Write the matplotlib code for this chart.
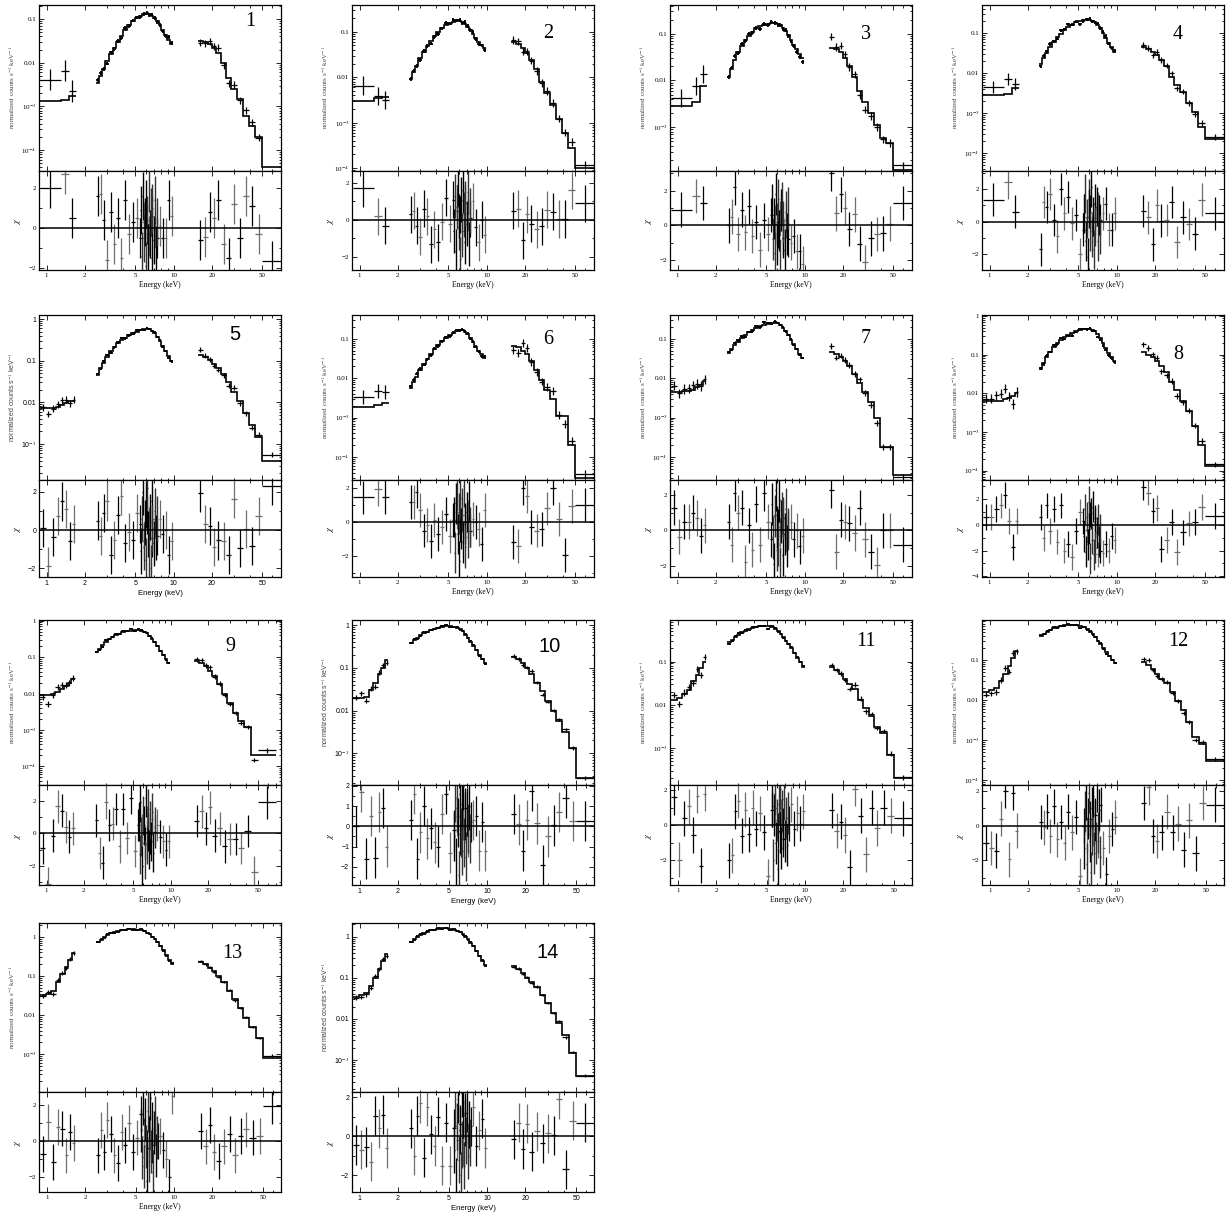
import matplotlib
matplotlib.use('Agg')
import matplotlib.pyplot as plt
from matplotlib.ticker import FixedLocator, FuncFormatter, LogLocator, MultipleLocator, NullFormatter
import numpy as np

matplotlib.rcParams['mathtext.fontset'] = 'stix'

# ---- shared energy bins (keV) ----
soft_edges_coarse = [0.88, 1.3, 1.5, 1.7]
soft_edges_fine = [0.88, 0.98, 1.08, 1.18, 1.28, 1.38, 1.48, 1.58, 1.68]
mid_edges = [2.45, 2.6, 2.75, 2.9, 3.1, 3.3, 3.5, 3.75, 4.0, 4.3, 4.6, 4.95, 5.3,
             5.65, 6.0, 6.3, 6.6, 6.9, 7.25, 7.6, 8.0, 8.45, 8.9, 9.4, 9.9]
hard_edges = [15.5, 17, 18.5, 20, 21.5, 23.5, 26, 28.5, 31.5, 35, 39, 44, 50, 70]
fe_energy = [5.5, 5.6, 5.7, 5.8, 5.9, 6.0, 6.1, 6.2, 6.3, 6.4, 6.5, 6.6, 6.7, 6.8, 6.95, 7.1, 7.25, 7.4]

# ---- panel 1 ----
soft1 = [0.0013, 0.0014, 0.0017]
soft1_chi = [2.0, 2.7, 0.5]
mid1 = [0.0035, 0.005, 0.007, 0.011, 0.016, 0.022, 0.03, 0.042, 0.055, 0.072, 0.09, 0.105,
        0.118, 0.128, 0.135, 0.13, 0.12, 0.105, 0.09, 0.072, 0.055, 0.043, 0.034, 0.027]
mid1_chi = [1.6, 1.7, 0.4, -1.6, 0.8, -0.8, 0.5, -1.5, 1.4, -0.3, 0.3, 0.5,
            -0.5, 0.3, 0.2, -0.4, 0.6, 0.0, -0.5, 0.1, -0.5, -0.5, 1.4, 0.6]
fe1_chi = [0.9, -1.4, 1.6, -0.5, 0.3, -1.9, 1.2, 0.4, -1.0, 2.0, -0.3, 0.8, -1.5, 1.0, -0.6, 1.4, -1.1, 0.3]
hard1 = [0.032, 0.03, 0.027, 0.022, 0.017, 0.01, 0.0045, 0.0025, 0.0015, 0.0006, 0.00035, 0.0002, 4e-5]
hard1_chi = [-0.6, -0.45, 0.8, 0.5, 1.4, -0.8, -1.5, 1.2, -0.5, 1.6, 1.1, -0.3, -1.65]

# ---- panel 2 ----
soft2 = [0.003, 0.0035, 0.0036]
soft2_chi = [1.7, 0.2, -0.3]
mid2 = [0.009, 0.013, 0.018, 0.026, 0.036, 0.048, 0.062, 0.08, 0.1, 0.12, 0.14, 0.155,
        0.165, 0.17, 0.175, 0.165, 0.15, 0.13, 0.11, 0.09, 0.072, 0.06, 0.05, 0.043]
mid2_chi = [0.3, 0.5, -0.3, -0.9, 0.6, 0.2, -1.3, -0.5, -1.2, -0.1, 1.2, -0.2,
            1.1, 0.5, 0.3, -0.6, 0.9, 0.4, 0.1, 1.0, -0.4, -1.2, 0.0, -0.8]
fe2_chi = [-0.6, 1.3, -1.7, 0.7, 1.9, -0.4, 0.2, -2.1, 1.1, -0.8, 1.6, 0.3, -1.2, 0.9, -0.2, 1.5, -1.3, 0.5]
hard2 = [0.06, 0.055, 0.045, 0.035, 0.024, 0.015, 0.008, 0.0045, 0.0025, 0.0012, 0.0006, 0.00028, 0.0001]
hard2_chi = [0.5, 0.6, -1.1, 0.3, -0.2, -0.5, -0.35, 0.55, 0.45, 0.05, 0.05, 1.6, 0.9]

# ---- panel 3 ----
soft3 = [0.0028, 0.0035, 0.0075]
soft3_chi = [0.9, 1.7, 1.3]
mid3 = [0.012, 0.018, 0.027, 0.04, 0.055, 0.072, 0.09, 0.11, 0.13, 0.145, 0.155, 0.16,
        0.165, 0.165, 0.16, 0.15, 0.135, 0.115, 0.095, 0.075, 0.058, 0.046, 0.037, 0.03]
mid3_chi = [0.0, 0.5, 2.2, -0.5, 0.9, -0.4, 1.1, -0.6, 0.2, -1.4, 0.3, -0.5,
            0.6, 0.2, -0.3, 0.4, -0.7, 0.3, -0.8, -1.0, -0.6, -1.5, -1.5, -2.2]
fe3_chi = [1.2, -0.8, 0.4, -1.6, 1.8, 0.1, -1.1, 1.5, -0.3, -2.0, 0.9, 1.3, -0.7, 0.2, -1.4, 0.8, -0.5, 1.0]
hard3 = [0.05, 0.046, 0.04, 0.03, 0.02, 0.012, 0.006, 0.0035, 0.002, 0.0011, 0.0006, 0.00045, 0.00012]
hard3_chi = [3.0, 0.7, 1.8, 1.0, -0.2, 0.65, -1.05, -2.1, -0.75, -0.5, -0.45, 0.1, 1.3]

# ---- panel 4 ----
soft4 = [0.0028, 0.003, 0.0042]
soft4_chi = [1.35, 2.4, 0.6]
mid4 = [0.017, 0.024, 0.032, 0.045, 0.06, 0.077, 0.095, 0.115, 0.14, 0.16, 0.18, 0.195,
        0.205, 0.21, 0.21, 0.2, 0.18, 0.155, 0.13, 0.1, 0.075, 0.056, 0.043, 0.034]
mid4_chi = [-1.7, 1.2, 0.9, 1.7, 0.1, -0.9, 2.0, 0.5, 1.5, -0.1, 0.4, -2.0,
            -0.5, 0.3, 0.6, -0.4, 0.2, 0.8, 0.1, 0.5, 1.1, -0.5, -0.5, 0.5]
fe4_chi = [0.5, 1.7, -1.2, 0.2, -2.2, 1.4, 0.8, -0.6, 2.1, -1.0, 0.3, -1.7, 1.1, -0.3, 0.9, -1.2, 0.4, -0.8]
hard4 = [0.045, 0.04, 0.034, 0.028, 0.021, 0.015, 0.008, 0.005, 0.0033, 0.0018, 0.00105, 0.00045, 0.00023]
hard4_chi = [0.65, 0.25, -1.4, 1.0, 0.05, 0.1, 1.2, -1.25, 0.25, -0.15, -0.75, 1.35, 0.5]

# ---- panel 5 ----
soft5 = [0.0075, 0.0075, 0.0075, 0.0078, 0.0085, 0.0095, 0.0105, 0.011]
soft5_chi = [0.1, -1.9, -0.35, 0.75, 1.5, 1.1, -0.6, 0.3]
mid5 = [0.046, 0.065, 0.09, 0.125, 0.17, 0.215, 0.26, 0.31, 0.36, 0.41, 0.46, 0.5,
        0.54, 0.57, 0.58, 0.57, 0.53, 0.46, 0.38, 0.3, 0.22, 0.17, 0.13, 0.1]
mid5_chi = [0.5, -0.3, 0.9, 1.5, -1.3, -0.5, 0.8, 1.8, -0.7, -0.1, -0.5, 0.9,
            0.3, -0.6, 0.8, 0.2, -0.4, 0.6, -0.3, 0.6, -0.2, 0.0, -1.3, -0.6]
fe5_chi = [-1.1, 0.6, 2.0, -0.9, 0.4, -1.6, 1.3, 2.2, -0.2, -1.3, 0.7, -2.0, 1.5, 0.1, -0.7, 1.0, -0.4, 0.6]
hard5 = [0.14, 0.125, 0.105, 0.085, 0.065, 0.048, 0.03, 0.018, 0.011, 0.0055, 0.0028, 0.0015, 0.0004]
hard5_chi = [1.95, 0.3, 0.2, -0.9, -0.55, -0.6, -1.3, 1.65, -0.95, 0.05, -0.85, 0.75, 2.3]

# ---- panel 6 ----
soft6 = [0.0018, 0.0021, 0.0024]
soft6_chi = [1.45, 1.95, 1.5]
mid6 = [0.0055, 0.008, 0.011, 0.016, 0.023, 0.031, 0.042, 0.055, 0.07, 0.088, 0.105, 0.125,
        0.14, 0.155, 0.165, 0.165, 0.15, 0.13, 0.105, 0.082, 0.063, 0.05, 0.04, 0.033]
mid6_chi = [1.2, 1.2, 1.8, 0.7, -0.5, -0.2, -1.1, 0.1, -0.7, -0.3, 0.5, -0.8,
            0.1, 0.6, -0.2, 0.4, 0.0, 0.3, -0.5, 0.2, 0.0, -0.4, -1.3, 0.7]
fe6_chi = [0.3, -1.8, 1.1, 1.9, -0.7, 0.5, -2.3, 1.4, -0.4, 0.8, -1.2, 2.1, -0.1, -1.5, 0.6, -0.9, 1.2, -0.3]
hard6 = [0.067, 0.06, 0.05, 0.04, 0.027, 0.016, 0.009, 0.005, 0.003, 0.0011, 0.0011, 0.0002, 3e-5]
hard6_chi = [-1.2, -1.4, 2.0, 1.55, -0.3, -0.5, -0.4, 0.8, 2.0, 0.2, -1.95, 0.95, 1.0]

# ---- panel 7 ----
soft7 = [0.0045, 0.0045, 0.0046, 0.0048, 0.005, 0.0058, 0.0068, 0.0085]
soft7_chi = [1.3, -0.35, 0.5, 0.5, 1.0, 0.7, -0.3, 0.3]
mid7 = [0.044, 0.055, 0.068, 0.085, 0.105, 0.125, 0.145, 0.165, 0.185, 0.205, 0.225, 0.24,
        0.25, 0.255, 0.25, 0.225, 0.19, 0.155, 0.125, 0.095, 0.072, 0.054, 0.042, 0.033]
mid7_chi = [0.5, -0.8, 2.1, 1.0, 1.3, -1.8, 0.3, -1.1, 1.5, -0.8, 2.1, 0.5,
            -0.5, 0.9, 0.2, -0.3, 0.7, -0.2, 0.1, 0.5, -0.5, 0.0, -0.9, -0.3]
fe7_chi = [1.5, -0.4, -1.9, 0.8, 2.3, -1.1, 0.2, -0.8, 1.7, -2.2, 0.5, 1.0, -1.4, 0.7, -0.2, 1.2, -0.9, 0.1]
hard7 = [0.045, 0.04, 0.034, 0.027, 0.02, 0.013, 0.0075, 0.0045, 0.0025, 0.001, 0.00018, 0.00018, 3.5e-5]
hard7_chi = [2.3, -1.2, 0.6, 0.5, 0.4, -0.15, 1.3, -0.5, -1.2, -1.95, 0.0, 0.0, -0.8]

# ---- panel 8 ----
soft8 = [0.0062, 0.0062, 0.0063, 0.0065, 0.007, 0.0075, 0.0085, 0.01]
soft8_chi = [0.6, 0.6, 1.2, 1.5, 2.3, 0.3, -1.7, 0.3]
mid8 = [0.042, 0.06, 0.085, 0.12, 0.16, 0.2, 0.245, 0.29, 0.33, 0.37, 0.4, 0.43,
        0.45, 0.46, 0.46, 0.44, 0.4, 0.34, 0.27, 0.2, 0.15, 0.11, 0.085, 0.068]
mid8_chi = [0.6, -1.0, 1.5, -0.5, 1.2, -1.3, 1.5, -2.0, -1.5, -2.5, -0.5, 1.0,
            0.3, -0.4, 0.8, -1.2, 0.5, -2.3, -2.0, -2.2, -1.5, -2.0, -0.9, -1.2]
fe8_chi = [-0.9, 1.2, -2.1, 0.6, -1.5, 1.8, -0.3, -2.6, 0.9, -1.1, 1.4, -2.3, 0.2, -1.8, -0.6, 0.4, -1.3, -0.4]
hard8 = [0.115, 0.1, 0.085, 0.068, 0.05, 0.035, 0.02, 0.012, 0.0064, 0.0035, 0.0014, 0.00047, 0.00013]
hard8_chi = [2.9, 2.5, 1.1, 1.3, -1.9, -1.2, 0.2, -2.1, -0.6, 0.1, 0.2, 1.4, 0.7]

# ---- panel 9 ----
soft9 = [0.0093, 0.0093, 0.0095, 0.011, 0.013, 0.016, 0.02, 0.025]
soft9_chi = [-0.9, -3.1, -0.15, 1.65, 1.4, 0.4, -0.2, 0.3]
mid9 = [0.136, 0.17, 0.21, 0.26, 0.31, 0.35, 0.4, 0.44, 0.48, 0.52, 0.54, 0.56,
        0.56, 0.54, 0.5, 0.45, 0.39, 0.32, 0.26, 0.2, 0.15, 0.115, 0.09, 0.07]
mid9_chi = [0.8, -1.2, -1.8, 1.9, 0.5, 0.6, 1.5, -0.8, 1.5, -0.3, 2.2, -1.1,
            0.5, 0.2, -0.6, 0.7, -0.3, 0.9, 0.1, 0.5, -0.2, -0.5, -1.0, -0.5]
fe9_chi = [0.7, -1.3, 1.9, -0.2, -2.0, 1.1, 0.5, -1.6, 2.2, -0.7, 0.1, 1.5, -1.0, 0.8, -0.5, 1.3, -1.2, 0.4]
hard9 = [0.078, 0.07, 0.057, 0.042, 0.03, 0.018, 0.01, 0.0055, 0.003, 0.0018, 0.0012, 0.00021, 0.00021]
hard9_chi = [0.75, 1.35, 0.3, 1.6, -0.15, 0.3, -0.8, -0.35, -0.35, -0.9, 0.15, -2.4, 1.9]

# ---- panel 10 ----
soft10 = [0.02, 0.02, 0.021, 0.03, 0.045, 0.07, 0.1, 0.15]
soft10_chi = [0.0, 1.7, -1.6, 0.5, -1.55, 0.7, 0.9, -1.0]
mid10 = [0.38, 0.44, 0.5, 0.57, 0.64, 0.7, 0.76, 0.82, 0.87, 0.91, 0.93, 0.93,
         0.91, 0.87, 0.8, 0.71, 0.6, 0.5, 0.41, 0.33, 0.26, 0.2, 0.16, 0.13]
mid10_chi = [0.3, 1.6, -1.6, -0.3, 1.0, -0.6, -0.1, -0.8, -1.0, 0.6, 1.6, -1.3,
             -0.2, 0.5, -0.4, 0.3, 0.9, -0.5, 0.2, 0.3, 0.5, -1.2, 0.2, -1.2]
fe10_chi = [-0.5, 1.4, -1.8, 0.9, 0.2, -2.4, 1.6, -0.3, 1.1, -1.2, 2.0, -0.8, 0.5, -1.5, 0.7, -0.1, 1.0, -0.6]
hard10 = [0.18, 0.16, 0.13, 0.1, 0.072, 0.045, 0.028, 0.017, 0.01, 0.0058, 0.0032, 0.0013, 0.00026]
hard10_chi = [0.6, 0.1, -1.2, 0.3, 1.75, 0.15, -1.9, -0.5, 0.05, 0.7, 1.4, 0.25, 0.25]

# ---- panel 11 ----
soft11 = [0.013, 0.014, 0.018, 0.022, 0.035, 0.05, 0.07, 0.095]
soft11_chi = [1.6, -1.95, 0.4, 1.1, -0.55, 1.7, -2.3, 1.8]
mid11 = [0.28, 0.32, 0.37, 0.42, 0.47, 0.52, 0.56, 0.6, 0.63, 0.65, 0.66, 0.65,
         0.62, 0.57, 0.5, 0.43, 0.36, 0.3, 0.25, 0.2, 0.16, 0.12, 0.095, 0.075]
mid11_chi = [-2.0, -1.7, 0.8, 1.4, -0.6, 0.9, -0.5, 1.0, -0.2, 0.7, -0.4, -2.9,
             0.9, 1.0, -0.3, 0.5, -0.8, 0.4, 0.1, 1.2, -0.2, 0.7, 0.1, 0.8]
fe11_chi = [1.1, -2.0, 0.6, 1.8, -1.0, 0.3, -2.5, 1.2, -0.4, 2.1, -1.3, 0.8, -0.2, 1.5, -0.9, 0.4, -1.1, 0.7]
hard11 = [0.074, 0.065, 0.052, 0.04, 0.031, 0.023, 0.013, 0.0085, 0.0055, 0.003, 0.0022, 0.0007, 0.0002]
hard11_chi = [0.85, -0.3, 0.2, -0.55, -2.4, 2.1, 0.55, -1.65, 1.0, -0.15, 1.0, 0.55, 0.4]

# ---- panel 12 ----
soft12 = [0.016, 0.018, 0.02, 0.03, 0.045, 0.07, 0.11, 0.17]
soft12_chi = [-1.0, -1.3, -1.45, 0.4, 2.0, -1.95, 1.9, -0.3]
mid12 = [0.4, 0.45, 0.5, 0.56, 0.61, 0.65, 0.69, 0.72, 0.73, 0.73, 0.72, 0.69,
         0.64, 0.58, 0.5, 0.43, 0.36, 0.3, 0.25, 0.2, 0.16, 0.125, 0.1, 0.082]
mid12_chi = [0.2, -0.1, 0.8, -0.6, 1.1, -0.8, 0.2, -1.0, 0.8, -0.4, 0.5, -2.9,
             0.0, -0.5, 0.4, -0.2, 0.6, -0.9, 1.2, -1.3, -2.8, -0.6, -0.2, 0.5]
fe12_chi = [-1.3, 0.8, 1.5, -2.2, 0.4, 1.9, -0.9, -2.7, 1.0, -0.5, 1.7, -1.6, 0.3, -1.0, 2.0, -0.4, 0.9, -1.8]
hard12 = [0.088, 0.075, 0.06, 0.045, 0.034, 0.026, 0.016, 0.0095, 0.0055, 0.0028, 0.0012, 0.0008, 0.0003]
hard12_chi = [1.3, 2.2, -0.6, -0.9, -0.4, 0.8, -0.4, 0.1, -1.4, 0.3, -1.6, 1.3, 1.2]

# ---- panel 13 ----
soft13 = [0.033, 0.035, 0.04, 0.07, 0.11, 0.17, 0.26, 0.38]
soft13_chi = [-0.7, 1.05, -1.15, 0.8, 0.7, -0.8, 0.5, -0.1]
mid13 = [0.74, 0.85, 0.97, 1.1, 1.22, 1.32, 1.4, 1.47, 1.52, 1.55, 1.55, 1.52,
         1.46, 1.38, 1.28, 1.15, 1.0, 0.86, 0.72, 0.58, 0.45, 0.34, 0.26, 0.2]
mid13_chi = [-0.8, 0.6, -0.6, 1.2, 0.4, -0.8, -1.2, 0.5, -0.2, 1.0, -0.6, 0.2,
             1.5, 0.3, -0.4, 0.5, -0.2, 0.7, 0.0, 0.3, -0.5, -1.0, -2.0, 2.5]
fe13_chi = [0.6, -0.9, 2.1, -1.4, 1.2, -0.3, -2.2, 1.7, 0.2, -1.1, 2.4, -0.6, 1.0, -1.7, 0.5, 1.3, -0.8, 0.2]
hard13 = [0.23, 0.2, 0.16, 0.13, 0.1, 0.07, 0.042, 0.025, 0.015, 0.0085, 0.0048, 0.0025, 0.0008]
hard13_chi = [0.55, -0.3, 0.9, -0.6, -1.1, -0.3, 0.4, -0.8, 0.3, 0.65, 0.2, 0.3, 1.95]

# ---- panel 14 ----
soft14 = [0.035, 0.038, 0.042, 0.065, 0.1, 0.16, 0.25, 0.37]
soft14_chi = [-0.45, -0.7, -0.55, -1.3, 1.05, 0.4, 1.1, -0.6]
mid14 = [0.75, 0.86, 0.98, 1.1, 1.22, 1.33, 1.42, 1.5, 1.56, 1.6, 1.6, 1.56,
         1.5, 1.4, 1.28, 1.14, 1.0, 0.86, 0.72, 0.58, 0.45, 0.34, 0.26, 0.2]
mid14_chi = [0.4, -1.0, 1.05, 1.7, -1.1, 1.5, 0.1, -0.5, 1.0, -1.5, 0.7, -1.5,
             0.4, -0.2, 0.6, -0.5, 1.2, -0.3, 0.5, 1.5, -0.5, 0.3, 0.9, -0.6]
fe14_chi = [-0.7, 1.6, -2.3, 0.5, 1.9, -1.2, 0.3, -2.0, 2.2, -0.4, 1.1, -1.5, 0.7, -0.2, 1.4, -1.0, 0.6, -0.3]
hard14 = [0.19, 0.16, 0.13, 0.1, 0.08, 0.06, 0.039, 0.024, 0.014, 0.0078, 0.004, 0.0015, 0.0004]
hard14_chi = [-0.15, 0.7, -0.65, 0.65, -0.8, 0.25, -0.35, 0.15, 0.05, 1.9, -1.7, 0.8, 0.7]

panels = [
    (soft1, soft1_chi, mid1, mid1_chi, fe1_chi, hard1, hard1_chi),
    (soft2, soft2_chi, mid2, mid2_chi, fe2_chi, hard2, hard2_chi),
    (soft3, soft3_chi, mid3, mid3_chi, fe3_chi, hard3, hard3_chi),
    (soft4, soft4_chi, mid4, mid4_chi, fe4_chi, hard4, hard4_chi),
    (soft5, soft5_chi, mid5, mid5_chi, fe5_chi, hard5, hard5_chi),
    (soft6, soft6_chi, mid6, mid6_chi, fe6_chi, hard6, hard6_chi),
    (soft7, soft7_chi, mid7, mid7_chi, fe7_chi, hard7, hard7_chi),
    (soft8, soft8_chi, mid8, mid8_chi, fe8_chi, hard8, hard8_chi),
    (soft9, soft9_chi, mid9, mid9_chi, fe9_chi, hard9, hard9_chi),
    (soft10, soft10_chi, mid10, mid10_chi, fe10_chi, hard10, hard10_chi),
    (soft11, soft11_chi, mid11, mid11_chi, fe11_chi, hard11, hard11_chi),
    (soft12, soft12_chi, mid12, mid12_chi, fe12_chi, hard12, hard12_chi),
    (soft13, soft13_chi, mid13, mid13_chi, fe13_chi, hard13, hard13_chi),
    (soft14, soft14_chi, mid14, mid14_chi, fe14_chi, hard14, hard14_chi),
]

# axis ranges per panel
spec_ylim = [(3.3e-5, 0.21), (8.6e-5, 0.39), (1.16e-4, 0.41), (3.6e-5, 0.49),
             (1.37e-4, 1.25), (2.6e-5, 0.40), (2.6e-5, 0.40), (5.7e-5, 1.06),
             (3.06e-5, 1.05), (1.82e-4, 1.31), (1.4e-4, 0.91), (7.7e-5, 0.98),
             (1.07e-4, 2.25), (1.67e-4, 2.16)]
chi_ylim = [(-2.1, 2.85), (-2.7, 2.64), (-2.57, 3.14), (-2.97, 3.1),
            (-2.47, 2.63), (-3.24, 2.48), (-2.64, 2.86), (-4.05, 3.47),
            (-3.18, 2.97), (-2.9, 2.04), (-3.4, 2.3), (-3.43, 2.34),
            (-2.84, 2.74), (-2.85, 2.26)]
xmax = [70, 70, 70, 70, 70, 70, 70, 70, 77, 69, 69, 69, 69, 69]
# error size in dex for (soft, mid, hard) data points
sig = [(0.25, 0.04, 0.08), (0.2, 0.04, 0.08), (0.2, 0.04, 0.08), (0.15, 0.04, 0.07),
       (0.08, 0.03, 0.06), (0.18, 0.04, 0.1), (0.12, 0.03, 0.07), (0.12, 0.03, 0.07),
       (0.08, 0.025, 0.06), (0.06, 0.02, 0.04), (0.07, 0.02, 0.05), (0.07, 0.02, 0.05),
       (0.05, 0.015, 0.03), (0.05, 0.015, 0.03)]
label_pos = [(0.875, 0.9), (0.81, 0.83), (0.81, 0.82), (0.81, 0.82), (0.81, 0.88),
             (0.81, 0.85), (0.81, 0.86), (0.81, 0.76), (0.79, 0.84), (0.815, 0.84),
             (0.81, 0.87), (0.81, 0.87), (0.8, 0.82), (0.81, 0.825)]
sans_panels = [4, 9, 13]

W, H = 1226.0, 1214.0
col_left = [39, 352, 670, 982]
row_top = [5, 315, 620, 923]
row_mid = [171, 480, 785, 1092]
row_bot = [270, 577, 885, 1192]
ax_w = 242
GRAY = '#6e6e6e'


def spec_fmt(v, pos):
    if v >= 0.999:
        return '1'
    if v >= 0.0999:
        return '0.1'
    if v >= 0.00999:
        return '0.01'
    return r'10$^{%d}$' % int(round(np.log10(v)))


def bins(edges):
    e = np.array(edges, dtype=float)
    c = np.sqrt(e[:-1] * e[1:])
    return e, c, c - e[:-1], e[1:] - c


fig = plt.figure(figsize=(12.26, 12.14), dpi=100)

for i, (soft, soft_chi, mid, mid_chi, fe_chi, hard, hard_chi) in enumerate(panels):
    r, c = divmod(i, 4)
    fam = ['Liberation Sans', 'DejaVu Sans'] if i in sans_panels else ['Liberation Serif', 'DejaVu Serif']
    x0 = col_left[c] / W
    ax = fig.add_axes([x0, 1 - row_mid[r] / H, ax_w / W, (row_mid[r] - row_top[r]) / H])
    axr = fig.add_axes([x0, 1 - row_bot[r] / H, ax_w / W, (row_bot[r] - row_mid[r]) / H])

    soft_edges = soft_edges_coarse if len(soft) == 3 else soft_edges_fine
    segs = [(soft_edges, soft, soft_chi, sig[i][0], 0.9),
            (mid_edges, mid, mid_chi, sig[i][1], 1.3),
            (hard_edges, hard, hard_chi, sig[i][2], 0.9)]
    for edges, model, chi, s, lw in segs:
        e, cen, xl, xr = bins(edges)
        m = np.array(model)
        ch = np.array(chi)
        y = m * 10 ** (ch * s)
        ax.stairs(m, e, baseline=None, color='k', lw=1.2)
        ax.errorbar(cen, y, xerr=[xl, xr], yerr=[y - y / 10 ** s, y * 10 ** s - y],
                    fmt='none', ecolor='k', elinewidth=lw, capsize=0)
        for j in range(len(ch)):
            axr.errorbar(cen[j], ch[j], xerr=[[xl[j]], [xr[j]]], yerr=1,
                         fmt='none', ecolor='k' if j % 2 == 0 else GRAY,
                         elinewidth=0.9, capsize=0)
    # dense Fe-line region of the residuals
    for j, (ef, cf) in enumerate(zip(fe_energy, fe_chi)):
        axr.errorbar(ef, cf, xerr=0.05, yerr=1.2, fmt='none',
                     ecolor='k' if j % 2 == 0 else '#333333', elinewidth=1.0, capsize=0)
    axr.axhline(0, color='k', lw=1.1)

    for a in (ax, axr):
        a.set_xscale('log')
        a.set_xlim(0.87, xmax[i])
        a.xaxis.set_major_locator(FixedLocator([1, 2, 5, 10, 20, 50]))
        a.xaxis.set_minor_locator(FixedLocator([3, 4, 6, 7, 8, 9, 30, 40, 60, 70]))
        a.xaxis.set_minor_formatter(NullFormatter())
        a.tick_params(which='both', direction='in', top=True, right=True, width=0.6,
                      labelsize=5, labelfontfamily=fam, pad=2)
        a.tick_params(which='major', length=3.5)
        a.tick_params(which='minor', length=1.8)
        for sp in a.spines.values():
            sp.set_linewidth(0.9)

    ax.set_yscale('log')
    ax.set_ylim(*spec_ylim[i])
    ax.yaxis.set_major_locator(LogLocator(base=10, numticks=10))
    ax.yaxis.set_major_formatter(FuncFormatter(spec_fmt))
    ax.yaxis.set_minor_locator(LogLocator(base=10, subs=np.arange(2, 10), numticks=20))
    ax.yaxis.set_minor_formatter(NullFormatter())
    ax.tick_params(labelbottom=False)
    ax.set_ylabel(r'normalized counts s$^{-1}$ keV$^{-1}$', fontsize=5, family=fam,
                  color='#444444', labelpad=3)
    ax.text(label_pos[i][0], label_pos[i][1], str(i + 1), transform=ax.transAxes,
            ha='center', va='center', fontsize=14.5, family=fam)

    axr.set_ylim(*chi_ylim[i])
    step = 1 if i == 9 else 2
    axr.yaxis.set_major_locator(MultipleLocator(step))
    axr.yaxis.set_minor_locator(MultipleLocator(step / 2))
    axr.set_xticklabels(['1', '2', '5', '10', '20', '50'])
    axr.set_ylabel(r'$\chi$', fontsize=6, labelpad=4)
    axr.set_xlabel('Energy (keV)', fontsize=5.5, family=fam, labelpad=2)

fig.savefig('out.png', dpi=100)
